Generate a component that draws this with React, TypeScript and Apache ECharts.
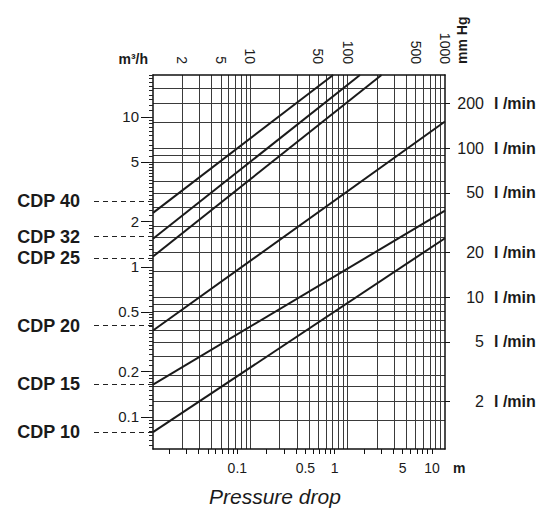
import React, { useEffect, useRef } from 'react';
import * as echarts from 'echarts';

const FONT = '"Liberation Sans", Arial, Helvetica, sans-serif';
const INK = '#1a1a1a';
const GRID_COLOR = '#3a3a3a';

// Bottom axis: pressure drop in metres of water column
const mRange = [0.0136, 13.6];
const mLabels = [0.1, 0.5, 1, 5, 10];
const mTickMantissas = [1, 2, 3, 4, 5, 6, 7, 8, 9];
const mTickDecades = [0.01, 0.1, 1, 10];

// Top axis: pressure drop in mm Hg
const mmHgRange = [1, 1000];
const mmHgLabels = [2, 5, 10, 50, 100, 500, 1000];
const mmHgGrid = [2, 3, 4, 5, 6, 7, 8, 9, 10, 20, 30, 40, 50, 60, 70, 80, 90, 100, 200, 300, 400, 500, 600, 700, 800, 900];

// Left axis: flow in m3/h
const qRange = [0.061, 19];
const qLabels = [0.1, 0.2, 0.5, 1, 2, 5, 10];
const qTickMantissas = [
  1, 1.1, 1.2, 1.3, 1.4, 1.5, 1.6, 1.7, 1.8, 1.9,
  2, 2.2, 2.4, 2.6, 2.8, 3, 3.2, 3.4, 3.6, 3.8, 4, 4.2, 4.4, 4.6, 4.8,
  5, 5.5, 6, 6.5, 7, 7.5, 8, 8.5, 9, 9.5,
];
const qTickDecades = [0.01, 0.1, 1, 10];

// Right axis: flow in l/min
const lpmRange = [0.955, 309];
const lpmLabels = [2, 5, 10, 20, 50, 100, 200];
const lpmUnit = 'l /min';
const lpmGrid = [1.5, 2, 2.5, 3, 4, 5, 6, 7, 8, 9, 10, 15, 20, 25, 30, 40, 50, 60, 80, 90, 100, 150, 200, 250];

// Valve sizes
const cdpLabels = ['CDP 40', 'CDP 32', 'CDP 25', 'CDP 20', 'CDP 15', 'CDP 10'];
const cdpMarkerQ = [2.754, 1.592, 1.143, 0.406, 0.166, 0.079];
const lineStartM = [0.0136, 0.0136, 0.0136, 0.0136, 0.0136, 0.0136];
const lineStartQ = [2.29, 1.537, 1.171, 0.376, 0.164, 0.079];
const lineEndM = [0.964, 1.82, 3.03, 13.6, 13.6, 13.6];
const lineEndQ = [19, 19, 19, 9.3, 2.37, 1.55];

const fmt = (v: number) => String(parseFloat(Number(v).toPrecision(6)));
const expand = (mantissas: number[], decades: number[]) => {
  const out: number[] = [];
  decades.forEach((d) => mantissas.forEach((m) => out.push(parseFloat((m * d).toPrecision(6)))));
  out.push(decades[decades.length - 1] * 10);
  return out;
};

export default function App() {
  const ref = useRef<HTMLDivElement>(null);

  useEffect(() => {
    if (!ref.current) return;
    const chart = echarts.init(ref.current, undefined, { renderer: 'svg' });

    const axisLineStyle = { color: '#111', width: 1.5 };
    const labelText = { fontFamily: FONT, color: INK, fontSize: 14 };

    const option: any = {
      animation: false,
      backgroundColor: '#ffffff',
      textStyle: { fontFamily: FONT },
      title: {
        text: 'Pressure drop',
        left: 209,
        top: 486,
        padding: 0,
        textStyle: { fontFamily: FONT, fontSize: 21, fontStyle: 'italic', fontWeight: 'normal', color: INK },
      },
      grid: { left: 153, top: 75, width: 292, height: 374, containLabel: false },
      xAxis: [
        {
          type: 'log',
          position: 'bottom',
          min: mRange[0],
          max: mRange[1],
          axisLine: { show: true, lineStyle: axisLineStyle },
          axisTick: { show: true, length: 5, customValues: expand(mTickMantissas, mTickDecades), lineStyle: { color: '#111', width: 1 } },
          axisLabel: { ...labelText, customValues: mLabels, margin: 12, formatter: (v: number) => fmt(v) },
          splitLine: { show: false },
          minorTick: { show: false },
        },
        {
          type: 'log',
          position: 'top',
          min: mmHgRange[0],
          max: mmHgRange[1],
          axisLine: { show: true, lineStyle: axisLineStyle },
          axisTick: { show: false, customValues: mmHgGrid },
          axisLabel: { ...labelText, customValues: mmHgLabels, rotate: 90, margin: 11, formatter: (v: number) => fmt(v) },
          splitLine: { show: true, lineStyle: { color: GRID_COLOR, width: 1 } },
        },
      ],
      yAxis: [
        {
          type: 'log',
          position: 'left',
          min: qRange[0],
          max: qRange[1],
          axisLine: { show: true, lineStyle: axisLineStyle },
          axisTick: { show: true, length: 12, customValues: qLabels, lineStyle: { color: '#111', width: 1 } },
          axisLabel: { ...labelText, fontSize: 15, customValues: qLabels, margin: 14, formatter: (v: number) => fmt(v) },
          splitLine: { show: false },
        },
        {
          type: 'log',
          position: 'left',
          min: qRange[0],
          max: qRange[1],
          axisLine: { show: false },
          axisTick: { show: true, length: 4, customValues: expand(qTickMantissas, qTickDecades), lineStyle: { color: '#222', width: 1 } },
          axisLabel: { show: false },
          splitLine: { show: false },
        },
        {
          type: 'log',
          position: 'left',
          min: qRange[0],
          max: qRange[1],
          axisLine: { show: false },
          axisTick: { show: true, length: 62, customValues: cdpMarkerQ, lineStyle: { color: '#222', width: 1, type: [5, 4] } },
          axisLabel: {
            fontFamily: FONT,
            color: INK,
            fontSize: 18,
            fontWeight: 'bold',
            customValues: cdpMarkerQ,
            margin: 73,
            formatter: (v: number) => {
              const i = cdpMarkerQ.findIndex((q) => Math.abs(q - v) / q < 1e-4);
              return i >= 0 ? cdpLabels[i] : '';
            },
          },
          splitLine: { show: false },
        },
        {
          type: 'log',
          position: 'right',
          min: lpmRange[0],
          max: lpmRange[1],
          axisLine: { show: true, lineStyle: axisLineStyle },
          axisTick: { show: true, length: 5, customValues: lpmLabels, lineStyle: { color: '#111', width: 1 } },
          axisLabel: {
            customValues: lpmLabels,
            margin: 39,
            align: 'right',
            fontFamily: FONT,
            fontSize: 16,
            color: INK,
            formatter: (v: number) => fmt(v),
          },
          splitLine: { show: false },
        },
        {
          type: 'log',
          position: 'right',
          min: lpmRange[0],
          max: lpmRange[1],
          axisLine: { show: false },
          axisTick: { show: false },
          axisLabel: {
            customValues: lpmLabels,
            margin: 49,
            align: 'left',
            fontFamily: FONT,
            fontSize: 16,
            fontWeight: 'bold',
            color: INK,
            formatter: () => lpmUnit,
          },
          splitLine: { show: false },
        },
        {
          type: 'log',
          position: 'right',
          min: lpmRange[0],
          max: lpmRange[1],
          axisLine: { show: false },
          axisTick: { show: false, customValues: lpmGrid },
          axisLabel: { show: false },
          splitLine: { show: true, lineStyle: { color: GRID_COLOR, width: 1 } },
        },
      ],
      graphic: [
        {
          type: 'text',
          x: 148,
          y: 66,
          style: { text: 'm³/h', fill: INK, font: `bold 14px ${FONT}`, align: 'right', verticalAlign: 'bottom' },
        },
        {
          type: 'text',
          x: 462,
          y: 64,
          rotation: Math.PI / 2,
          style: { text: 'mm Hg', fill: INK, font: `bold 14px ${FONT}`, align: 'left', verticalAlign: 'middle' },
        },
        {
          type: 'text',
          x: 453,
          y: 468,
          style: { text: 'm', fill: INK, font: `bold 14px ${FONT}`, align: 'left', verticalAlign: 'middle' },
        },
      ],
      series: cdpLabels.map((name, i) => ({
        name,
        type: 'line',
        xAxisIndex: 0,
        yAxisIndex: 0,
        data: [
          [lineStartM[i], lineStartQ[i]],
          [lineEndM[i], lineEndQ[i]],
        ],
        symbol: 'none',
        showSymbol: false,
        silent: true,
        clip: true,
        z: 5,
        lineStyle: { color: INK, width: 2 },
      })),
    };

    chart.setOption(option);
    return () => chart.dispose();
  }, []);

  return <div ref={ref} style={{ position: 'fixed', left: 0, top: 0, width: 546, height: 516 }} />;
}
